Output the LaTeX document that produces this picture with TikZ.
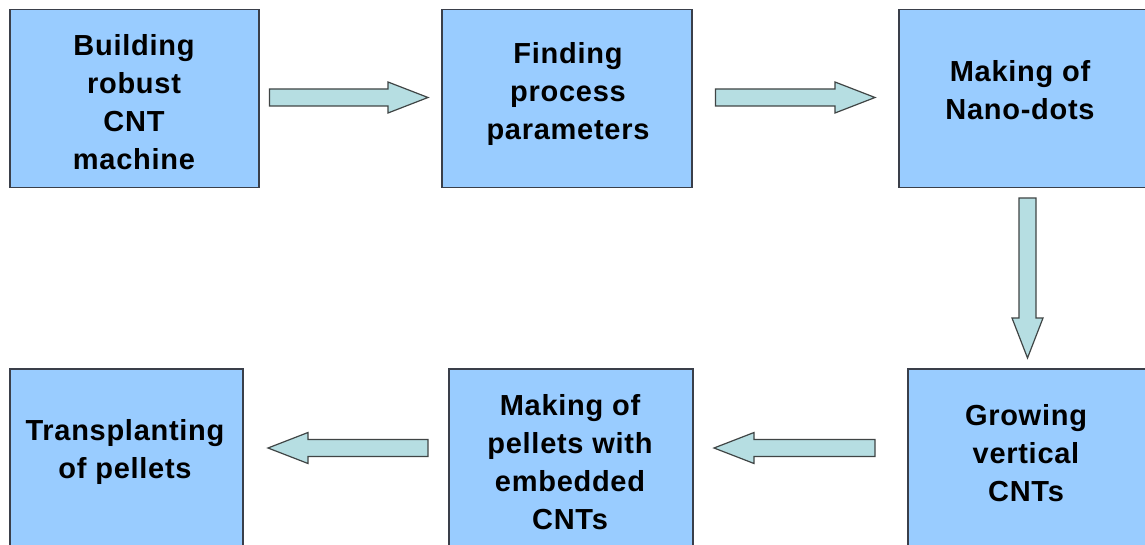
\documentclass[tikz,border=0pt]{standalone}
\usepackage{fontspec}
\setmainfont{Liberation Sans}
\usetikzlibrary{calc}
\definecolor{boxfill}{HTML}{99CCFF}
\definecolor{boxline}{HTML}{3A3F4A}
\definecolor{arrfill}{HTML}{B6DEE2}
\definecolor{arrline}{HTML}{404545}
\tikzset{
  box/.style={draw=boxline, fill=boxfill, line width=1.5pt, rectangle, anchor=north west, inner sep=0pt},
  boxtext/.style={align=center, font=\addfontfeature{LetterSpace=2.5}\fontsize{29}{38}\selectfont\bfseries, text=black, inner sep=0pt},
  barrow/.style={draw=arrline, fill=arrfill, line width=1.2pt, line join=miter}
}
\newcommand\blockarr[2]{%
  \path let \p1=(#1), \p2=(#2), \n1={atan2(\y2-\y1,\x2-\x1)}, \n2={veclen(\x2-\x1,\y2-\y1)} in
    \pgfextra{\xdef\baang{\n1}\xdef\balen{\n2}\xdef\bax{\x1}\xdef\bay{\y1}};
  \draw[barrow, shift={(\bax,\bay)}, rotate=\baang]
    (0pt,-8.5pt) -- (\balen-40pt,-8.5pt) -- (\balen-40pt,-15.5pt) -- (\balen,0pt)
    -- (\balen-40pt,15.5pt) -- (\balen-40pt,8.5pt) -- (0pt,8.5pt) -- cycle;
}
\begin{document}
\begin{tikzpicture}[x=1pt,y=-1pt]
\useasboundingbox (0,0) rectangle (1145,545);
\fill[white] (0,0) rectangle (1145,545);
% boxes
\node[box, minimum width=249pt, minimum height=178pt] (b1) at (9,9) {};
\node[box, minimum width=250pt, minimum height=178pt] (b2) at (441,9) {};
\node[box, minimum width=252pt, minimum height=178pt] (b3) at (898,9) {};
\node[box, minimum width=242pt, minimum height=182pt] (b4) at (907,368) {};
\node[box, minimum width=244pt, minimum height=182pt] (b5) at (448,368) {};
\node[box, minimum width=233pt, minimum height=182pt] (b6) at (9,368) {};
% texts
\node[boxtext] (t1) at (134,102) {Building\\robust\\CNT\\machine};
\node[boxtext] (t2) at (568,94.5) {Finding\\process\\parameters};
\node[boxtext] (t3) at (1020,90.5) {Making of\\Nano-dots};
\node[boxtext] (t4) at (1026,453) {Growing\\vertical\\CNTs};
\node[boxtext] (t5) at (570,462) {Making of\\pellets with\\embedded\\CNTs};
\node[boxtext] (t6) at (125,451.5) {Transplanting\\of pellets};
% arrow ends
\coordinate (a1s) at ([xshift=10pt]b1.east |- 0,97.5);
\coordinate (a1e) at ([xshift=-13pt]b2.west |- 0,97.5);
\coordinate (a2s) at ([xshift=23pt]b2.east |- 0,97.5);
\coordinate (a2e) at ([xshift=-23pt]b3.west |- 0,97.5);
\coordinate (a3s) at (1027.5,198);
\coordinate (a3e) at (1027.5,358);
\coordinate (a4s) at (875,448);
\coordinate (a4e) at (714,448);
\coordinate (a5s) at (428,448);
\coordinate (a5e) at (268,448);
\blockarr{a1s}{a1e}
\blockarr{a2s}{a2e}
\blockarr{a3s}{a3e}
\blockarr{a4s}{a4e}
\blockarr{a5s}{a5e}
\end{tikzpicture}
\end{document}
